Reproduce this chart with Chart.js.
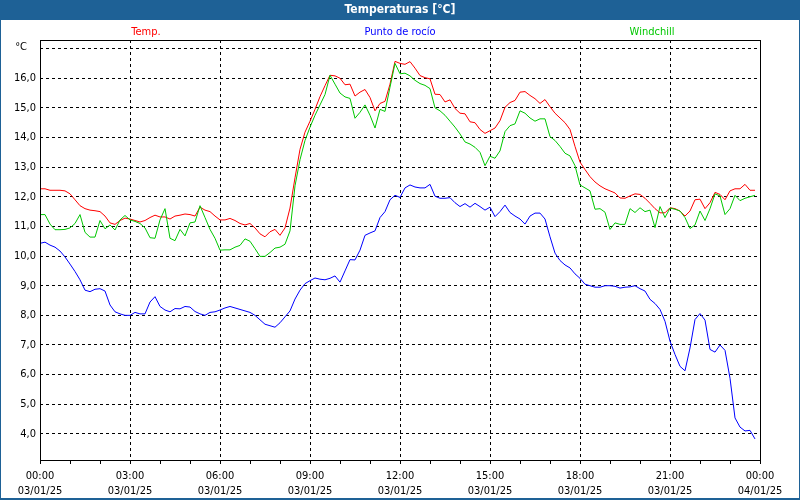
<!DOCTYPE html>
<html><head><meta charset="utf-8">
<script src="https://cdn.jsdelivr.net/npm/chart.js@4/dist/chart.umd.min.js"></script>
<style>html,body{margin:0;padding:0;background:#fff}</style>
</head><body>
<canvas id="c" width="800" height="500"></canvas>
<script>
const chartTitle = 'Temperaturas [°C]';
const seriesNames = ['Temp.', 'Punto de rocío', 'Windchill'];
const seriesColors = ['#ff0000', '#0000ff', '#00c800'];
const stepMinutes = 10;
const xTickLabels = {
  0: ['00:00', '03/01/25'], 180: ['03:00', '03/01/25'], 360: ['06:00', '03/01/25'],
  540: ['09:00', '03/01/25'], 720: ['12:00', '03/01/25'], 900: ['15:00', '03/01/25'],
  1080: ['18:00', '03/01/25'], 1260: ['21:00', '03/01/25'], 1440: ['00:00', '04/01/25']
};
const yTickValues = [4, 5, 6, 7, 8, 9, 10, 11, 12, 13, 14, 15, 16, 17];
const yUnitLabel = '°C';

const temp = [
  12.27,12.27,12.22,12.22,12.22,12.2,12.1,11.9,11.7,11.6,11.55,11.53,11.5,11.35,11.12,11.07,11.2,11.28,11.25,11.2,11.15,11.2,11.3,11.38,11.32,11.32,11.25,11.35,11.38,11.42,11.4,11.35,11.65,11.55,11.5,11.35,11.22,
  11.22,11.27,11.2,11.1,11.05,11.1,10.95,10.75,10.65,10.82,10.9,10.7,10.95,11.62,12.64,13.6,14.18,14.55,14.95,15.38,15.75,16.1,16.08,16.0,15.78,15.8,15.4,15.53,15.62,15.35,14.9,15.15,15.22,15.8,16.57,16.5,
  16.47,16.56,16.34,16.09,16.02,15.98,15.46,15.45,15.2,15.27,14.98,14.82,14.8,14.53,14.5,14.27,14.14,14.23,14.32,14.57,15.02,15.18,15.25,15.53,15.55,15.42,15.31,15.15,15.28,15.04,14.82,14.66,14.5,14.27,13.7,13.17,
  12.92,12.68,12.5,12.37,12.27,12.2,12.13,11.96,11.95,12.03,12.1,12.08,11.95,11.78,11.6,11.46,11.46,11.63,11.6,11.52,11.35,11.52,11.9,11.92,11.6,11.8,12.15,12.08,11.9,12.2,12.27,12.27,12.42,12.22,12.22
];
const dewPoint = [
  10.43,10.47,10.37,10.3,10.17,9.97,9.73,9.48,9.2,8.85,8.8,8.88,8.9,8.82,8.35,8.12,8.05,8.0,8.0,8.1,8.05,8.05,8.45,8.63,8.3,8.18,8.12,8.23,8.22,8.3,8.28,8.13,8.05,8.0,8.1,8.12,8.18,
  8.25,8.3,8.25,8.2,8.15,8.1,8.0,7.85,7.7,7.65,7.6,7.75,7.95,8.15,8.55,8.85,9.07,9.17,9.26,9.22,9.2,9.25,9.33,9.12,9.5,9.88,9.87,10.2,10.7,10.78,10.85,11.3,11.5,11.9,12.05,11.98,
  12.3,12.4,12.33,12.3,12.3,12.42,12.02,11.95,11.95,11.97,11.8,11.67,11.77,11.65,11.78,11.67,11.55,11.65,11.33,11.5,11.72,11.47,11.35,11.25,11.08,11.35,11.45,11.45,11.25,10.65,10.1,9.85,9.7,9.6,9.4,9.25,
  9.05,9.0,8.95,8.95,9.0,9.0,8.98,8.92,8.95,8.96,9.0,8.9,8.82,8.54,8.4,8.2,7.8,7.13,6.68,6.28,6.13,6.9,7.86,8.06,7.84,6.85,6.76,7.0,6.82,5.88,4.54,4.23,4.1,4.12,3.83
];
const windchill = [
  11.4,11.4,11.08,10.89,10.89,10.9,10.95,11.1,11.4,10.8,10.64,10.64,11.2,10.92,11.05,10.88,11.22,11.37,11.22,11.17,11.1,10.95,10.62,10.6,11.22,11.6,10.6,10.52,10.9,10.68,11.12,11.15,11.7,11.3,10.9,10.6,10.2,
  10.21,10.21,10.3,10.36,10.58,10.5,10.25,9.99,9.99,10.12,10.27,10.3,10.4,10.85,12.37,13.25,13.9,14.35,14.75,15.1,15.45,16.1,15.8,15.5,15.37,15.32,14.65,14.85,15.1,14.75,14.32,14.95,14.88,15.7,16.5,16.15,
  16.17,16.08,15.93,15.82,15.76,15.65,15.0,14.9,14.75,14.55,14.35,14.12,13.85,13.78,13.67,13.5,13.05,13.37,13.3,13.55,14.2,14.4,14.46,14.9,14.82,14.66,14.55,14.63,14.63,14.03,13.9,13.7,13.47,13.38,13.05,12.4,
  12.3,12.2,11.58,11.6,11.48,10.9,11.12,11.07,11.07,11.6,11.47,11.63,11.5,11.55,10.96,11.67,11.3,11.62,11.58,11.52,11.3,10.93,11.05,11.52,11.2,11.6,12.1,12.03,11.4,11.6,12.05,11.87,11.95,12.0,12.05
];

const toPoints = arr => arr.map((v, i) => ({ x: i * stepMinutes, y: v }));
const FONT = 'Tahoma, "DejaVu Sans Condensed", "Noto Sans", sans-serif';
Chart.defaults.font.family = FONT;
Chart.defaults.font.size = 11;
Chart.defaults.color = '#000';

const deco = {
  id: 'deco',
  beforeDraw(chart) {
    const ctx = chart.ctx;
    ctx.save();
    ctx.fillStyle = '#ffffff';
    ctx.fillRect(0, 0, 800, 500);
    ctx.fillStyle = '#1e6196';
    ctx.fillRect(0, 0, 800, 20);
    ctx.fillRect(0, 0, 1, 500);
    ctx.fillRect(799, 0, 1, 500);
    ctx.fillRect(0, 498, 800, 2);
    ctx.fillStyle = '#ffffff';
    ctx.font = 'bold 12px ' + FONT;
    ctx.textAlign = 'center';
    ctx.textBaseline = 'middle';
    ctx.fillText(chartTitle, 400, 10);
    ctx.font = '11px ' + FONT;
    const xs = [146, 400, 652];
    seriesNames.forEach((n, i) => { ctx.fillStyle = seriesColors[i]; ctx.fillText(n, xs[i], 32); });
    ctx.fillStyle = '#000';
    ctx.textAlign = 'right';
    ctx.fillText(yUnitLabel, 27, 47);
    ctx.restore();
  },
  afterDraw(chart) {
    const { ctx, chartArea: a } = chart;
    ctx.save();
    ctx.strokeStyle = '#000';
    ctx.lineWidth = 1;
    ctx.strokeRect(Math.round(a.left) + 0.5, Math.round(a.top) + 0.5, Math.round(a.right - a.left), Math.round(a.bottom - a.top));
    ctx.restore();
  }
};

new Chart(document.getElementById('c'), {
  type: 'line',
  data: {
    datasets: [
      { label: seriesNames[0], data: toPoints(temp), borderColor: seriesColors[0], order: 2 },
      { label: seriesNames[1], data: toPoints(dewPoint), borderColor: seriesColors[1], order: 1 },
      { label: seriesNames[2], data: toPoints(windchill), borderColor: seriesColors[2], order: 0 }
    ]
  },
  options: {
    responsive: false,
    animation: false,
    devicePixelRatio: 1,
    elements: { point: { radius: 0 }, line: { borderWidth: 1, tension: 0 } },
    layout: { padding: { top: 40, right: 40, left: 0, bottom: 0 } },
    plugins: { legend: { display: false }, tooltip: { enabled: false }, title: { display: false } },
    scales: {
      x: {
        type: 'linear', min: 0, max: 1440,
        afterFit: s => { s.height = 40; },
        ticks: {
          stepSize: 60, autoSkip: false, maxRotation: 0, padding: 5,
          font: { size: 11, lineHeight: 1.35 },
          callback: v => xTickLabels[v] || ''
        },
        grid: {
          color: c => (c.tick && c.tick.value % 180 === 0) ? '#000' : 'rgba(0,0,0,0)',
          tickColor: '#000', tickLength: 4, lineWidth: 1
        },
        border: { display: false, dash: [3, 3] }
      },
      y: {
        type: 'linear', min: 3.12, max: 17.29,
        afterFit: s => { s.width = 40; },
        afterBuildTicks: s => { s.ticks = yTickValues.map(v => ({ value: v })); },
        ticks: {
          stepSize: 1, padding: 4,
          callback: v => v >= 17 ? '' : v.toFixed(1).replace('.', ',')
        },
        grid: { color: '#000', drawTicks: false, lineWidth: 1 },
        border: { display: false, dash: [3, 3] }
      }
    }
  },
  plugins: [deco]
});
</script>
</body></html>
